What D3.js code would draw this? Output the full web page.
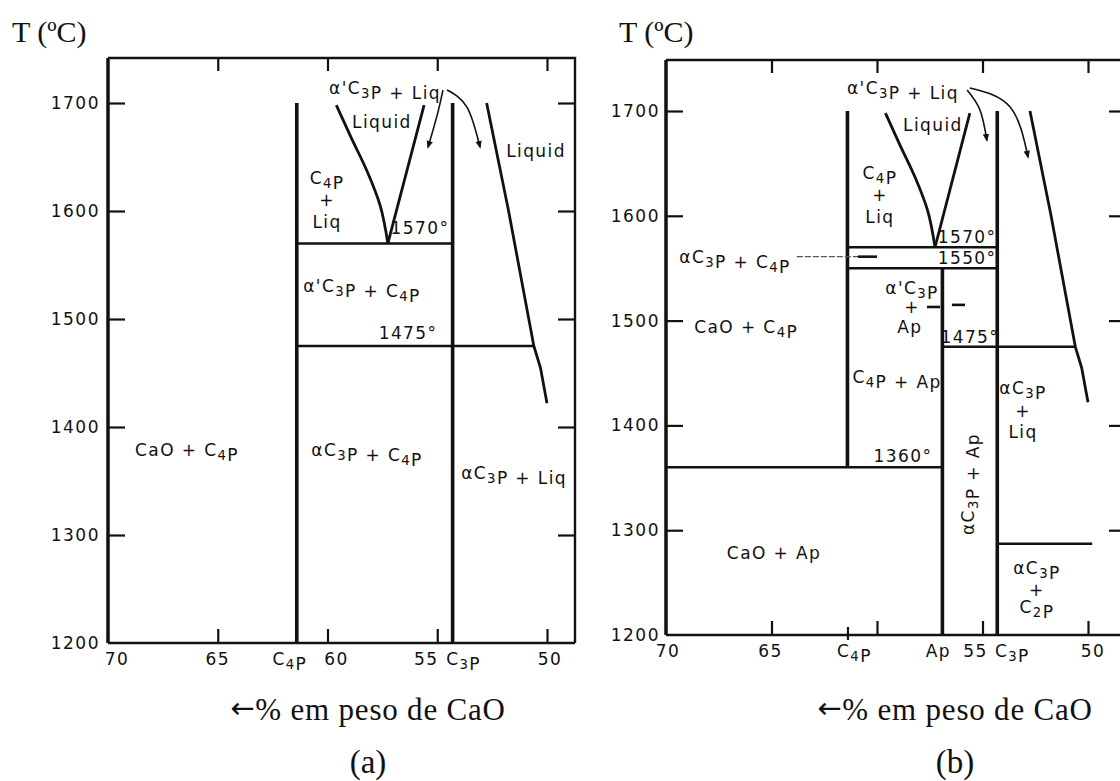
<!DOCTYPE html>
<html>
<head>
<meta charset="utf-8">
<script src="https://cdn.jsdelivr.net/npm/d3@7"></script>
<style>
  body { margin: 0; background: #fff; }
  svg { display: block; }
  .lbl { font-family: "DejaVu Sans", sans-serif; font-size: 17px; fill: #111; letter-spacing: 1.4px; }
  .tick text { font-family: "DejaVu Sans", sans-serif; font-size: 17px; fill: #111; letter-spacing: 1.5px; }
  .tick line { stroke: #111; stroke-width: 2.2; }
  .title { font-family: "Liberation Serif", "Times New Roman", serif; font-size: 30px; fill: #111; }
  .xtitle { font-size: 31px; letter-spacing: 0.8px; }
  .tag { font-size: 33px; }
  .arrow { font-family: "DejaVu Sans", sans-serif; font-size: 29px; }
</style>
</head>
<body>
<div id="chart"></div>
<script>
var svgWidth = 1120;
var svgHeight = 781;

// compounds, wt% CaO
var C4P = 61.4, C3P = 54.3, AP = 56.9;

var tempTicks = [1200, 1300, 1400, 1500, 1600, 1700];
var compTicks = [65, 60, 55, 50];

var axisValsA = [70, 65, C4P, 60, 55, C3P, 50];
var axisTextA = ["70", "65", "C_4P", "60", "55", "C_3P", "50"];
var axisValsB = [70, 65, C4P, AP, 55, C3P, 50];
var axisTextB = ["70", "65", "C_4P", "Ap", "55", "C_3P", "50"];

// liquidus curves [wt% CaO, T]
var liquidusLeft = [[59.6, 1698], [58.9, 1667], [58.2, 1637], [57.6, 1605], [57.25, 1570]];
var liquidusMid = [[57.25, 1570], [55.6, 1698]];
var liquidusRight = [[52.75, 1700], [51.75, 1600], [50.6, 1475], [50.3, 1455], [50.0, 1422]];

// phase boundaries [x1, T1, x2, T2]
var boundsA = [
  [C4P, 1200, C4P, 1700],
  [C3P, 1200, C3P, 1700],
  [C4P, 1570, C3P, 1570],
  [C4P, 1475, 50.6, 1475]
];
var boundsB = [
  [C4P, 1360, C4P, 1700],
  [AP, 1200, AP, 1550],
  [C3P, 1200, C3P, 1700],
  [C4P, 1570, C3P, 1570],
  [C4P, 1550, C3P, 1550],
  [AP, 1475, 50.6, 1475],
  [70, 1360, AP, 1360],
  [C3P, 1287, 49.8, 1287]
];

// region labels [text, wt% CaO, T]
var labelsA = [
  ["α'C_3P + Liq", 57.38, 1714],
  ["Liquid", 57.52, 1682],
  ["Liquid", 50.5, 1656],
  ["C_4P", 60.02, 1631], ["+", 60.02, 1610], ["Liq", 60.02, 1590],
  ["1570°", 55.79, 1584],
  ["α'C_3P + C_4P", 58.43, 1531],
  ["1475°", 56.33, 1487],
  ["CaO + C_4P", 66.4, 1379],
  ["αC_3P + C_4P", 58.2, 1379],
  ["αC_3P + Liq", 51.5, 1357]
];
var labelsB = [
  ["α'C_3P + Liq", 58.77, 1722],
  ["Liquid", 57.35, 1687],
  ["C_4P", 59.86, 1641], ["+", 59.86, 1620], ["Liq", 59.86, 1599],
  ["1570°", 55.73, 1580],
  ["1550°", 55.73, 1560],
  ["αC_3P + C_4P", 66.73, 1561],
  ["α'C_3P", 58.34, 1531], ["+", 58.34, 1513], ["Ap", 58.44, 1494],
  ["1475°", 55.6, 1484],
  ["CaO + C_4P", 66.2, 1494],
  ["C_4P + Ap", 59.05, 1446],
  ["αC_3P", 53.08, 1436], ["+", 53.08, 1414], ["Liq", 53.08, 1394],
  ["1360°", 58.77, 1371],
  ["CaO + Ap", 64.88, 1278],
  ["αC_3P", 52.42, 1264], ["+", 52.42, 1243], ["C_2P", 52.42, 1227]
];
var rotatedB = [["αC_3P + Ap", 55.69, 1344]];

// arrows from the "α'C3P + Liq" label
var arrowsA = [
  [[54.74, 1712], [55.0, 1689], [55.42, 1659]],
  [[54.56, 1712], [53.64, 1696], [53.05, 1659]]
];
var arrowsB = [
  [[55.73, 1720], [55.12, 1701], [54.79, 1672]],
  [[55.6, 1722], [53.7, 1704], [52.84, 1656]]
];

// leaders in panel (b)
var leaderThinB = [[[63.8, 1561], [60.0, 1561]]];
var leaderThickB = [[[60.9, 1561], [60.0, 1561]]];
var dashesB = [[[57.63, 1513], [57.01, 1513]], [[56.45, 1515], [55.83, 1515]]];

var svg = d3.select("#chart").append("svg")
  .attr("width", svgWidth)
  .attr("height", svgHeight);

svg.append("defs").append("marker")
  .attr("id", "head")
  .attr("viewBox", "0 0 10 10")
  .attr("refX", 8).attr("refY", 5)
  .attr("markerWidth", 8).attr("markerHeight", 8)
  .attr("markerUnits", "userSpaceOnUse")
  .attr("orient", "auto")
  .append("path")
  .attr("d", "M0,1 L10,5 L0,9 Z")
  .attr("fill", "#111");

// write "C_3P" with a subscript
function richText(sel, str) {
  var parts = str.split(/(_\d)/);
  parts.forEach(function(p) {
    if (!p) return;
    if (p[0] === "_") {
      sel.append("tspan").attr("dy", 5).attr("font-size", "78%").text(p[1]);
      sel.append("tspan").attr("dy", -5).text("");
    } else {
      sel.append("tspan").text(p);
    }
  });
}

function drawPanel(p) {
  var x = p.x, y = p.y;
  var g = svg.append("g");
  var xR = x.invert(p.right), yT = y.invert(p.top);
  var line = d3.line().x(d => x(d[0])).y(d => y(d[1]));

  // axes (ticks pointing inward)
  var left = g.append("g")
    .attr("transform", `translate(${x(70)},0)`)
    .call(d3.axisLeft(y).tickValues(tempTicks).tickFormat(d3.format("d"))
      .tickSizeInner(-17).tickSizeOuter(0).tickPadding(p.pad));
  left.select(".domain").remove();
  left.selectAll(".tick").filter(d => d === 1200).select("line").remove();

  var bottom = g.append("g")
    .attr("transform", `translate(0,${y(1200)})`)
    .call(d3.axisBottom(x).tickValues(compTicks).tickSizeInner(-14).tickSizeOuter(0).tickFormat(""));
  bottom.select(".domain").remove();

  var top = g.append("g")
    .attr("transform", `translate(0,${p.top})`)
    .call(d3.axisTop(x).tickValues(compTicks).tickSizeInner(-13).tickSizeOuter(0).tickFormat(""));
  top.select(".domain").remove();

  var right = g.append("g")
    .attr("transform", `translate(${p.right},0)`)
    .call(d3.axisRight(y).tickValues(tempTicks.slice(1)).tickSizeInner(-17).tickSizeOuter(0).tickFormat(""));
  right.select(".domain").remove();

  if (p.cross) {
    g.append("g")
      .attr("transform", `translate(0,${y(1200)})`)
      .call(d3.axisBottom(x).tickValues(p.cross).tickSizeInner(5).tickSizeOuter(0).tickFormat(""))
      .call(s => s.select(".domain").remove());
    g.append("g")
      .attr("transform", `translate(0,${y(1200)})`)
      .call(d3.axisBottom(x).tickValues(p.cross).tickSizeInner(-8).tickSizeOuter(0).tickFormat(""))
      .call(s => s.select(".domain").remove());
  }

  // frame
  g.append("path")
    .attr("d", line([[70, 1200], [70, yT]]))
    .attr("stroke", "#111").attr("stroke-width", 3.5).attr("fill", "none");
  g.append("path")
    .attr("d", line([[70, yT], [xR, yT], [xR, 1200]]))
    .attr("stroke", "#111").attr("stroke-width", 2.4).attr("fill", "none");
  g.append("path")
    .attr("d", line([[70, 1200], [xR, 1200]]))
    .attr("stroke", "#111").attr("stroke-width", 2.4).attr("fill", "none");

  // x labels
  g.selectAll(".xlab").data(p.axisVals).enter().append("text")
    .attr("class", "lbl xlab")
    .attr("x", (d, i) => x(d) + p.nudge[i])
    .attr("y", y(1200) + 16)
    .attr("text-anchor", "middle")
    .attr("dominant-baseline", "central")
    .each(function(d, i) { richText(d3.select(this), p.axisText[i]); });

  // phase boundaries
  g.selectAll(".bound").data(p.bounds).enter().append("line")
    .attr("x1", d => x(d[0])).attr("y1", d => y(d[1]))
    .attr("x2", d => x(d[2])).attr("y2", d => y(d[3]))
    .attr("stroke", "#111")
    .attr("stroke-width", d => d[0] === d[2] ? 3.6 : 2.5);

  // liquidus: the curved left branch is smoothed, the others are straight pieces
  var curve = d3.line().x(d => x(d[0])).y(d => y(d[1])).curve(d3.curveMonotoneY);
  g.append("path").attr("d", curve(liquidusLeft))
    .attr("fill", "none").attr("stroke", "#111").attr("stroke-width", 2.8);
  [liquidusMid, liquidusRight].forEach(function(c) {
    g.append("path").attr("d", line(c))
      .attr("fill", "none").attr("stroke", "#111").attr("stroke-width", 2.8)
      .attr("stroke-linejoin", "round");
  });

  // arrows
  var smooth = d3.line().x(d => x(d[0])).y(d => y(d[1])).curve(d3.curveNatural);
  p.arrows.forEach(function(a) {
    g.append("path").attr("d", smooth(a))
      .attr("fill", "none").attr("stroke", "#111").attr("stroke-width", 1.6)
      .attr("marker-end", "url(#head)");
  });

  (p.leadersThin || []).forEach(function(a) {
    g.append("path").attr("d", line(a))
      .attr("stroke", "#555").attr("stroke-width", 1.4).attr("stroke-dasharray", "6,2");
  });
  (p.leadersThick || []).forEach(function(a) {
    g.append("path").attr("d", line(a))
      .attr("stroke", "#111").attr("stroke-width", 2.6);
  });

  // region labels
  g.selectAll(".reg").data(p.labels).enter().append("text")
    .attr("class", "lbl reg")
    .attr("x", d => x(d[1]))
    .attr("y", d => y(d[2]))
    .attr("text-anchor", "middle")
    .attr("dominant-baseline", "central")
    .each(function(d) { richText(d3.select(this), d[0]); });

  (p.rotated || []).forEach(function(d) {
    var t = g.append("text")
      .attr("class", "lbl")
      .attr("transform", `translate(${x(d[1])},${y(d[2])}) rotate(-90)`)
      .attr("text-anchor", "middle")
      .attr("dominant-baseline", "central");
    richText(t, d[0]);
  });

  // titles
  g.append("text").attr("class", "title")
    .attr("x", p.tx).attr("y", 42).text("T (ºC)");
  var xt = g.append("text").attr("class", "title xtitle")
    .attr("x", p.cx).attr("y", 720).attr("text-anchor", "middle");
  xt.append("tspan").attr("class", "arrow").attr("dy", -2).text("←");
  xt.append("tspan").attr("dy", 2).text("% em peso de CaO");
  g.append("text").attr("class", "title tag")
    .attr("x", p.cx).attr("y", 773).attr("text-anchor", "middle")
    .text(p.tag);
}

drawPanel({
  x: d3.scaleLinear().domain([70, 50]).range([108, 547]),
  y: d3.scaleLinear().domain([1200, 1700]).range([643, 103]),
  right: 575, top: 58, pad: 8,
  bounds: boundsA, labels: labelsA, arrows: arrowsA,
  axisVals: axisValsA, axisText: axisTextA,
  nudge: [9, 0, -7, 9, -11, 11, 3],
  tx: 12, cx: 368, tag: "(a)"
});

drawPanel({
  x: d3.scaleLinear().domain([70, 50]).range([666, 1088]),
  y: d3.scaleLinear().domain([1200, 1700]).range([635, 111]),
  right: 1126, top: 60, pad: 6,
  bounds: boundsB, labels: labelsB, arrows: arrowsB,
  axisVals: axisValsB, axisText: axisTextB,
  nudge: [2, -1, 7, -4, -7, 15, 5],
  leadersThin: leaderThinB, leadersThick: leaderThickB.concat(dashesB),
  rotated: rotatedB, cross: [C4P],
  tx: 619, cx: 955, tag: "(b)"
});
</script>
</body>
</html>
